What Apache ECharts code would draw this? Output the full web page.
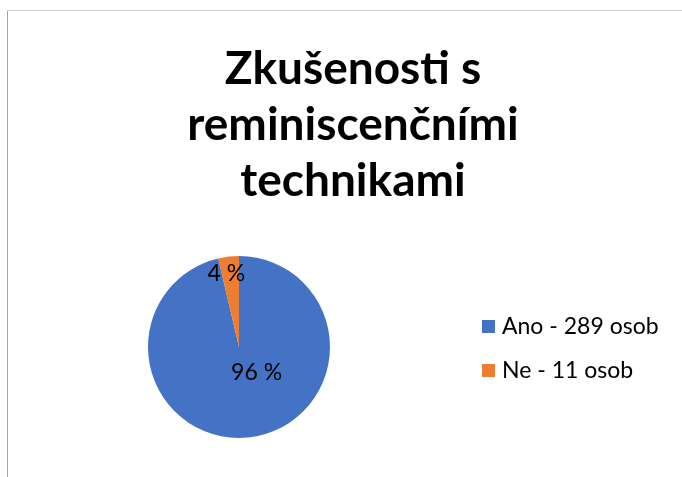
<!DOCTYPE html>
<html>
<head>
<meta charset="utf-8">
<script src="https://cdn.jsdelivr.net/npm/echarts@6/dist/echarts.min.js"></script>
<style>
  html, body { margin: 0; padding: 0; background: #fff; }
  #chart { width: 682px; height: 477px; }
</style>
</head>
<body>
<div id="chart"></div>
<script>
// data
const categories = ['Ano - 289 osob', 'Ne - 11 osob'];
const values = [289, 11];
const colors = ['#4472C4', '#ED7D31'];
// label nudges to match the Excel placement
const labelOffsets = [[12, -23], [-7, -25]];

const FONT = 'Lato';

const chart = echarts.init(document.getElementById('chart'), null, { renderer: 'canvas' });

chart.setOption({
  animation: false,
  backgroundColor: '#fff',
  title: {
    text: 'Zkušenosti s\nreminiscenčními\ntechnikami',
    left: 348,
    top: 36,
    textAlign: 'center',
    textStyle: {
      fontFamily: FONT,
      fontWeight: 'bold',
      fontSize: 46,
      lineHeight: 56,
      color: '#000'
    }
  },
  legend: {
    orient: 'vertical',
    left: 477,
    top: 310,
    itemWidth: 13,
    itemHeight: 13,
    itemGap: 21,
    icon: 'rect',
    data: categories,
    textStyle: { fontFamily: FONT, fontSize: 23, color: '#000', padding: [0, 0, 0, 2] }
  },
  graphic: [
    { type: 'line', shape: { x1: 7.5, y1: 10, x2: 7.5, y2: 477 }, style: { stroke: '#a6a6a6', lineWidth: 1 } },
    { type: 'line', shape: { x1: 7, y1: 10.5, x2: 682, y2: 10.5 }, style: { stroke: '#d0d0d0', lineWidth: 1 } }
  ],
  series: [{
    type: 'pie',
    center: [239, 347],
    radius: 91,
    startAngle: 90,
    clockwise: true,
    label: {
      show: true,
      position: 'inside',
      fontFamily: FONT,
      fontSize: 23,
      color: '#000',
      formatter: p => Math.round(p.percent) + ' %'
    },
    labelLine: { show: false },
    emphasis: { disabled: true },
    itemStyle: { borderWidth: 0 },
    data: categories.map((name, i) => ({
      name,
      value: values[i],
      itemStyle: { color: colors[i] },
      label: { offset: labelOffsets[i] }
    }))
  }]
});
</script>
</body>
</html>
